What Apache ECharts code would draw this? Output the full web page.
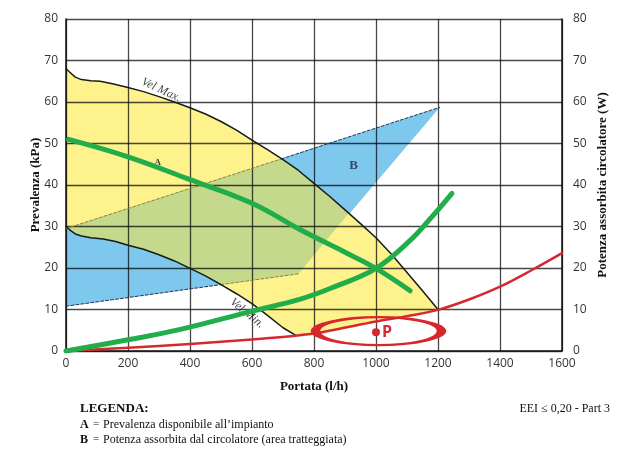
<!DOCTYPE html>
<html><head><meta charset="utf-8">
<script src="https://cdn.jsdelivr.net/npm/echarts/dist/echarts.min.js"></script>
<style>html,body{margin:0;padding:0;background:#fff}#c{width:629px;height:457px}</style>
</head><body><div id="c"></div>
<script>
// ---- data ----
const velMax = [[0,68],[15,67],[30,66],[50,65.4],[80,65.1],[110,65],[150,64.4],[200,63.5],[250,62.5],[300,61.3],[350,60],[400,58.6],[450,57.1],[500,55.3],[550,53.2],[600,50.8],[650,48.5],[700,46.1],[750,43.5],[800,40.4],[850,37.3],[900,34],[950,30.7],[1000,27.3],[1050,23.3],[1100,18.9],[1150,14.5],[1200,10]];
const velMin = [[0,30],[15,29],[30,28.2],[50,27.7],[80,27.3],[120,27],[160,26.4],[200,25.5],[250,24.5],[300,23.2],[350,21.7],[400,19.9],[450,18.1],[500,16],[550,13.8],[600,11.4],[650,8.6],[700,5.6],[740,3.8]];
const redCurve = [[0,0],[200,0.8],[400,1.7],[600,2.8],[740,3.7],[830,4.6],[1000,7.1],[1100,8.4],[1200,9.9],[1300,12.4],[1400,15.5],[1500,19.4],[1600,23.6]];
const greenDown = [[8,51],[200,46.8],[400,41.3],[600,35.6],[756,29.2],[900,23.8],[1000,19.9],[1110,14.5]];
const greenUp = [[0,0],[200,2.7],[369,5.2],[600,9.6],[756,12.5],[863,15.4],[1000,19.9],[1111,26.7],[1180,32.3],[1245,38]];
const blueArea = [[0,29.5],[1205,58.7],[750,18.6],[0,10.8]];
const overlapArea = [[0,29.5],[695,46.3],[700,46.1],[750,43.5],[800,40.4],[850,37.3],[900,34],[912,33.2],[750,18.6],[500,16],[450,18.1],[400,19.9],[350,21.7],[300,23.2],[250,24.5],[200,25.5],[160,26.4],[120,27],[80,27.3],[50,27.7],[30,28.2],[15,29],[0,30]];
const upperDashIn = [[0,29.5],[695,46.3]];
const upperDashOut = [[695,46.3],[1205,58.7]];
const lowerDashOut = [[0,10.8],[500,16]];
const lowerDashIn = [[500,16],[750,18.6]];
const pointP = ['P', 1000, 4.5];
const ellipseCenter = [1008, 4.8];
const curveLabels = [['Vel Max.', 307, 62.9, -25], ['Vel Min.', 584, 9.1, -39]];
const areaLabels = [['A', 296, 45.4], ['B', 928, 44.6]];
const xName = 'Portata (l/h)';
const yNameLeft = 'Prevalenza (kPa)';
const yNameRight = 'Potenza assorbita circolatore (W)';
const legendTitle = 'LEGENDA:';
const legendRows = [['A', '=', 'Prevalenza disponibile all\u2019impianto'], ['B', '=', 'Potenza assorbita dal circolatore (area tratteggiata)']];
const noteText = 'EEI \u2264 0,20 - Part 3';

// yellow region: Vel Max on top, red curve + Vel Min at the bottom
const yellowArea = velMax.concat(
  redCurve.filter(p => p[0] > 740 && p[0] < 1200).reverse(),
  velMin.slice().reverse()
);

const chart = echarts.init(document.getElementById('c'), null, {renderer: 'canvas'});

function polygonSeries(points, color, z) {
  return {
    type: 'custom', coordinateSystem: 'cartesian2d', z: z, silent: true,
    data: points,
    encode: {x: 0, y: 1},
    renderItem: function (params, api) {
      if (params.dataIndex !== 0) return null;
      const pts = points.map(p => api.coord(p));
      return {type: 'polygon', shape: {points: pts}, style: {fill: color}};
    }
  };
}
function lineSeries(data, color, width, z, dashed, smooth) {
  return {
    type: 'line', data: data, z: z, silent: true, symbol: 'none', smooth: smooth || false,
    lineStyle: {color: color, width: width, type: dashed ? [3, 2] : 'solid', cap: 'round', join: 'round'}
  };
}

const serif = 'Liberation Serif';
const axisLabelStyle = {fontFamily: 'Open Sans', fontSize: 12, color: '#333', formatter: v => String(v)};
const nameStyle = {fontFamily: serif, fontWeight: 'bold', fontSize: 13, color: '#111'};
const gridLine = {show: true, lineStyle: {color: 'rgba(0,0,0,0.72)', width: 1.3}};

const option = {
  backgroundColor: '#fff',
  animation: false,
  grid: {left: 66, right: 67, top: 19, bottom: 106, containLabel: false},
  xAxis: {
    type: 'value', min: 0, max: 1600, interval: 200, z: 2,
    name: xName, nameLocation: 'middle', nameGap: 29, nameTextStyle: nameStyle, nameMoveOverlap: false,
    axisLine: {show: true, lineStyle: {color: '#111', width: 1.5}},
    axisTick: {show: false},
    axisLabel: Object.assign({margin: 7}, axisLabelStyle),
    splitLine: gridLine
  },
  yAxis: [{
    type: 'value', min: 0, max: 80, interval: 10, z: 2,
    name: yNameLeft, nameLocation: 'middle', nameGap: 24, nameTextStyle: nameStyle, nameMoveOverlap: false,
    axisLine: {show: true, lineStyle: {color: '#111', width: 1.5}},
    axisTick: {show: false},
    axisLabel: Object.assign({margin: 8}, axisLabelStyle),
    splitLine: gridLine
  }, {
    type: 'value', min: 0, max: 80, interval: 10, position: 'right', z: 2,
    name: yNameRight, nameLocation: 'middle', nameGap: 34, nameTextStyle: nameStyle, nameMoveOverlap: false,
    axisLine: {show: true, lineStyle: {color: '#111', width: 1.5}},
    axisTick: {show: false},
    axisLabel: Object.assign({margin: 11}, axisLabelStyle),
    splitLine: {show: false}
  }],
  series: [
    polygonSeries(blueArea, '#7ec8ee', 1),
    polygonSeries(yellowArea, '#fdf28c', 1.1),
    polygonSeries(overlapArea, '#c4d98b', 1.2),
    lineSeries(upperDashIn, '#8a8440', 1, 3, true),
    lineSeries(upperDashOut, '#1d3358', 1, 3, true),
    lineSeries(lowerDashOut, '#1d3358', 1, 3, true),
    lineSeries(lowerDashIn, '#8a8440', 1, 3, true),
    lineSeries(velMax, '#1a1a1a', 1.5, 3, false),
    lineSeries(velMin, '#1a1a1a', 1.5, 3, false),
    {
      type: 'scatter', z: 3.5, silent: true, symbolSize: 1,
      itemStyle: {color: 'rgba(0,0,0,0)'},
      data: curveLabels.map(c => ({name: c[0], value: [c[1], c[2]],
        label: {rotate: c[3]}})),
      label: {show: true, position: 'inside', formatter: '{b}', fontFamily: serif,
        fontStyle: 'italic', fontSize: 12, color: '#111'}
    },
    {
      type: 'scatter', z: 3.5, silent: true, symbolSize: 1,
      itemStyle: {color: 'rgba(0,0,0,0)'},
      data: areaLabels.map(c => ({name: c[0], value: [c[1], c[2]],
        label: c[0] === 'A' ? {fontSize: 9, color: '#111'} : {fontSize: 13, color: '#1d2b4d'}})),
      label: {show: true, position: 'inside', formatter: '{b}', fontFamily: serif,
        fontWeight: 'bold'}
    },
    lineSeries(redCurve, '#d42a2f', 2.5, 4, false, 0.35),
    lineSeries(greenDown, '#22ad4b', 5, 5, false, 0.4),
    lineSeries(greenUp, '#22ad4b', 5, 5, false, 0.4),
    {
      type: 'scatter', z: 6, silent: true, symbol: 'circle', symbolSize: [126, 28],
      itemStyle: {color: 'rgba(0,0,0,0)', borderColor: '#d8262c', borderWidth: 4.5, opacity: 1},
      data: [ellipseCenter]
    },
    {
      type: 'scatter', z: 6, silent: true, symbol: 'circle', symbolSize: 8,
      itemStyle: {color: '#d8262c', opacity: 1},
      data: [{name: pointP[0], value: [pointP[1], pointP[2]]}],
      label: {show: true, position: 'right', distance: 2, formatter: '{b}',
        fontFamily: 'Open Sans', fontWeight: 'bold', fontSize: 16, color: '#d8262c'}
    }
  ],
  graphic: [
    {type: 'text', left: 80, top: 402, style: {text: legendTitle, font: 'bold 13px "Liberation Serif"', fill: '#111'}},
    {type: 'text', left: 80, top: 419, style: {text: legendRows[0][0], font: 'bold 12px "Liberation Serif"', fill: '#111'}},
    {type: 'text', left: 93, top: 419, style: {text: legendRows[0][1], font: '11px "Liberation Serif"', fill: '#111'}},
    {type: 'text', left: 103, top: 419, style: {text: legendRows[0][2], font: '12px "Liberation Serif"', fill: '#111'}},
    {type: 'text', left: 80, top: 434, style: {text: legendRows[1][0], font: 'bold 12px "Liberation Serif"', fill: '#111'}},
    {type: 'text', left: 93, top: 434, style: {text: legendRows[1][1], font: '11px "Liberation Serif"', fill: '#111'}},
    {type: 'text', left: 103, top: 434, style: {text: legendRows[1][2], font: '12px "Liberation Serif"', fill: '#111'}},
    {type: 'text', right: 19, top: 403, style: {text: noteText, font: '12px "Liberation Serif"', fill: '#111'}}
  ]
};
chart.setOption(option);
</script>
</body></html>
